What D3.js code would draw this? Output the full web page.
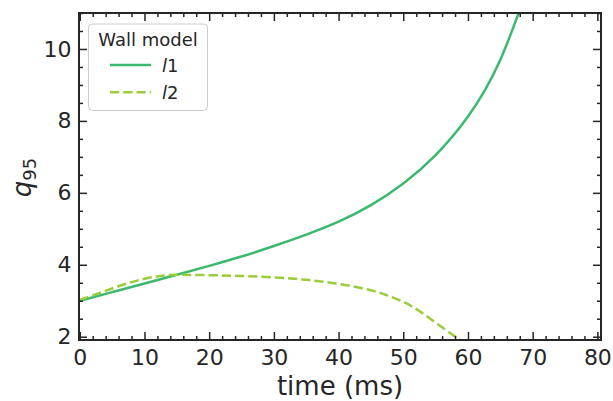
<!DOCTYPE html>
<html>
<head>
<meta charset="utf-8">
<script src="https://cdn.jsdelivr.net/npm/d3@7"></script>
<style>
  html, body { margin: 0; padding: 0; background: #fff; }
  svg { display: block; font-family: "DejaVu Sans", sans-serif; }
</style>
</head>
<body>
<svg id="chart" width="613" height="401"></svg>
<script>
// ---- data ----
const timeL1 = [0, 5, 10, 15, 20, 25, 30, 35, 40, 45, 50, 55, 60, 65, 70];
const q95L1  = [3.00, 3.24, 3.48, 3.72, 3.97, 4.23, 4.52, 4.84, 5.20, 5.66, 6.26, 7.05, 8.12, 9.70, 12.1];
const timeL2 = [0, 2.5, 5, 7.5, 10, 12.5, 15, 20, 25, 30, 35, 40, 45, 47.5, 50, 52.5, 55, 57.5, 59];
const q95L2  = [3.02, 3.18, 3.34, 3.49, 3.61, 3.69, 3.72, 3.71, 3.69, 3.65, 3.58, 3.47, 3.29, 3.15, 2.97, 2.71, 2.39, 2.07, 1.88];
const xTicks = [0, 10, 20, 30, 40, 50, 60, 70, 80];
const yTicks = [2, 4, 6, 8, 10];
const legendTitle = "Wall model";
const seriesNames = ["l1", "l2"];

// ---- layout ----
const W = 613, H = 401;
const L = 79, R = 601, T = 13, B = 340;
const ink = "#262626";
const colors = ["#3cb96e", "#9acd3a"];

const svg = d3.select("#chart");
const x = d3.scaleLinear().domain([-0.12, 80.56]).range([L, R]);
const y = d3.scaleLinear().domain([1.908, 11]).range([B, T]);

svg.append("rect").attr("width", W).attr("height", H).attr("fill", "#fff");

svg.append("defs").append("clipPath").attr("id", "clip")
  .append("rect").attr("x", L).attr("y", T).attr("width", R - L).attr("height", B - T);

const line = d3.line().x(d => x(d[0])).y(d => y(d[1])).curve(d3.curveNatural);

const g = svg.append("g").attr("clip-path", "url(#clip)");
g.append("path").datum(timeL1.map((t, i) => [t, q95L1[i]]))
  .attr("d", line).attr("fill", "none").attr("stroke", colors[0]).attr("stroke-width", 2.5);
g.append("path").datum(timeL2.map((t, i) => [t, q95L2[i]]))
  .attr("d", line).attr("fill", "none").attr("stroke", colors[1]).attr("stroke-width", 2.5)
  .attr("stroke-dasharray", "9.25,4");

// ---- axes ----
const majorLen = 8, minorLen = 4;
const xMinor = d3.range(0, 81, 2).filter(v => v % 10 !== 0);
const yMinor = d3.range(2, 11.01, 0.5).filter(v => v % 2 !== 0);

function styleAxis(sel) {
  sel.select(".domain").remove();
  sel.selectAll(".tick line").attr("stroke", ink).attr("stroke-width", 1.5);
  sel.selectAll(".tick text").attr("fill", ink).style("font-family", "DejaVu Sans").style("font-size", "22px");
}

// bottom
svg.append("g").attr("transform", `translate(0,${B})`)
  .call(d3.axisBottom(x).tickValues(xTicks).tickSize(-majorLen).tickPadding(9).tickFormat(d3.format("d")))
  .call(styleAxis);
svg.append("g").attr("transform", `translate(0,${B})`)
  .call(d3.axisBottom(x).tickValues(xMinor).tickSize(-minorLen).tickFormat(""))
  .call(styleAxis);
// top
svg.append("g").attr("transform", `translate(0,${T})`)
  .call(d3.axisTop(x).tickValues(xTicks).tickSize(-majorLen).tickFormat(""))
  .call(styleAxis);
svg.append("g").attr("transform", `translate(0,${T})`)
  .call(d3.axisTop(x).tickValues(xMinor).tickSize(-minorLen).tickFormat(""))
  .call(styleAxis);
// left
svg.append("g").attr("transform", `translate(${L},0)`)
  .call(d3.axisLeft(y).tickValues(yTicks).tickSize(-majorLen).tickPadding(7.5).tickFormat(d3.format("d")))
  .call(styleAxis);
svg.append("g").attr("transform", `translate(${L},0)`)
  .call(d3.axisLeft(y).tickValues(yMinor).tickSize(-minorLen).tickFormat(""))
  .call(styleAxis);
// right
svg.append("g").attr("transform", `translate(${R},0)`)
  .call(d3.axisRight(y).tickValues(yTicks).tickSize(-majorLen).tickFormat(""))
  .call(styleAxis);
svg.append("g").attr("transform", `translate(${R},0)`)
  .call(d3.axisRight(y).tickValues(yMinor).tickSize(-minorLen).tickFormat(""))
  .call(styleAxis);

// frame
svg.append("rect").attr("x", L).attr("y", T).attr("width", R - L).attr("height", B - T)
  .attr("fill", "none").attr("stroke", ink).attr("stroke-width", 2);

// axis labels
svg.append("text").attr("x", (L + R) / 2).attr("y", 395).attr("text-anchor", "middle")
  .attr("fill", ink).style("font-size", "26px").text("time (ms)");

const yl = svg.append("text").attr("transform", `translate(31,177.5) rotate(-90)`)
  .attr("text-anchor", "middle").attr("fill", ink).style("font-size", "26px");
yl.append("tspan").style("font-style", "italic").text("q");
yl.append("tspan").attr("dy", 5).style("font-size", "18px").text("95");

// ---- legend ----
const lg = svg.append("g");
lg.append("rect").attr("x", 88.5).attr("y", 24).attr("width", 119).attr("height", 86.5)
  .attr("rx", 4).attr("fill", "#fff").attr("fill-opacity", 0.8)
  .attr("stroke", "#cccccc").attr("stroke-width", 1);
lg.append("text").attr("x", 148).attr("y", 45.5).attr("text-anchor", "middle")
  .attr("fill", ink).style("font-size", "18px").text(legendTitle);
seriesNames.forEach((name, i) => {
  const yy = 65 + i * 27.3;
  lg.append("line").attr("x1", 110).attr("x2", 151).attr("y1", yy).attr("y2", yy)
    .attr("stroke", colors[i]).attr("stroke-width", 2.5)
    .attr("stroke-dasharray", i === 1 ? "9.25,4" : null);
  const t = lg.append("text").attr("x", 162).attr("y", yy + 7).attr("fill", ink).style("font-size", "18px");
  t.append("tspan").style("font-style", "italic").text(name.slice(0, 1));
  t.append("tspan").text(name.slice(1));
});
</script>
</body>
</html>
